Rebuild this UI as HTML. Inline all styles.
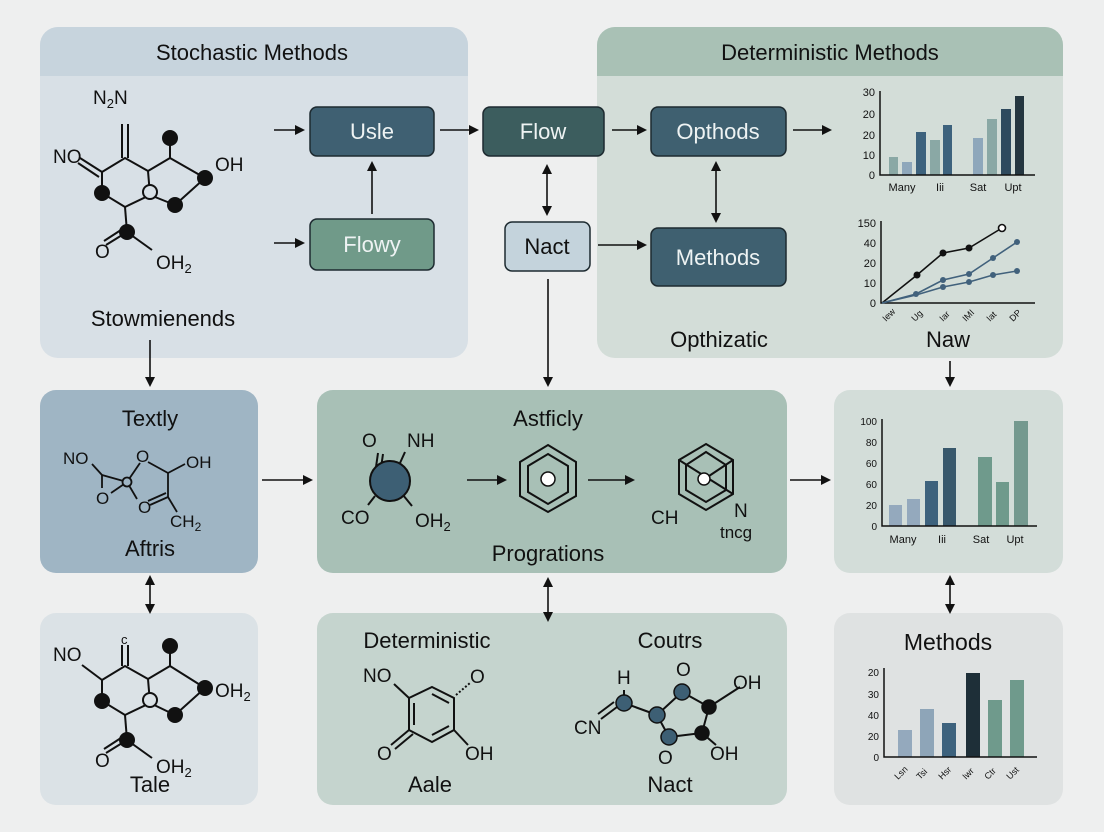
<!DOCTYPE html>
<html><head><meta charset="utf-8"><style>
html,body{margin:0;padding:0;background:#eeefef;}
svg{display:block;font-family:"Liberation Sans",sans-serif;}
</style></head><body>
<svg width="1104" height="832" viewBox="0 0 1104 832" xmlns="http://www.w3.org/2000/svg">
<defs>
<marker id="a" markerWidth="10" markerHeight="10" refX="8" refY="5" orient="auto" markerUnits="userSpaceOnUse"><path d="M0,0 L10,5 L0,10 z" fill="#111"/></marker>
<marker id="s" markerWidth="10" markerHeight="10" refX="2" refY="5" orient="auto" markerUnits="userSpaceOnUse"><path d="M10,0 L0,5 L10,10 z" fill="#111"/></marker>
<clipPath id="c1"><rect x="40" y="27" width="428" height="331" rx="18"/></clipPath>
<clipPath id="c2"><rect x="597" y="27" width="466" height="331" rx="18"/></clipPath>
</defs>
<rect width="1104" height="832" fill="#eeefef"/>
<g clip-path="url(#c1)"><rect x="40" y="27" width="428" height="331" fill="#d8e0e6"/><rect x="40" y="27" width="428" height="49" fill="#c7d4dd"/></g>
<g clip-path="url(#c2)"><rect x="597" y="27" width="466" height="331" fill="#d3ddd8"/><rect x="597" y="27" width="466" height="49" fill="#a9c1b5"/></g>
<rect x="40" y="390" width="218" height="183" rx="16" fill="#9fb5c4"/>
<rect x="317" y="390" width="470" height="183" rx="16" fill="#a8c0b6"/>
<rect x="834" y="390" width="229" height="183" rx="16" fill="#d3ddd9"/>
<rect x="40" y="613" width="218" height="192" rx="16" fill="#dbe2e6"/>
<rect x="317" y="613" width="470" height="192" rx="16" fill="#c5d4ce"/>
<rect x="834" y="613" width="229" height="192" rx="16" fill="#dfe2e2"/>

<g fill="#111" font-size="22" text-anchor="middle">
<text x="252" y="60">Stochastic Methods</text>
<text x="830" y="60">Deterministic Methods</text>
<text x="163" y="326">Stowmienends</text>
<text x="719" y="347">Opthizatic</text>
<text x="948" y="347">Naw</text>
<text x="150" y="426">Textly</text>
<text x="150" y="556">Aftris</text>
<text x="548" y="426">Astficly</text>
<text x="548" y="561">Progrations</text>
<text x="150" y="792">Tale</text>
<text x="427" y="648">Deterministic</text>
<text x="670" y="648">Coutrs</text>
<text x="430" y="792">Aale</text>
<text x="670" y="792">Nact</text>
<text x="948" y="650" font-size="23">Methods</text>
</g>

<g stroke="#1d2a30" stroke-width="1.5">
<rect x="310" y="107" width="124" height="49" rx="7" fill="#3f6072"/>
<rect x="483" y="107" width="121" height="49" rx="7" fill="#3c5d5e"/>
<rect x="651" y="107" width="135" height="49" rx="7" fill="#3f6070"/>
<rect x="310" y="219" width="124" height="51" rx="7" fill="#709a89"/>
<rect x="505" y="222" width="85" height="49" rx="7" fill="#c4d3dc"/>
<rect x="651" y="228" width="135" height="58" rx="7" fill="#3f6070"/>
</g>
<g font-size="22" text-anchor="middle" fill="#eef3f3">
<text x="372" y="139">Usle</text>
<text x="543" y="139">Flow</text>
<text x="718" y="139">Opthods</text>
<text x="372" y="252">Flowy</text>
<text x="547" y="254" fill="#111">Nact</text>
<text x="718" y="265">Methods</text>
</g>

<g stroke="#111" stroke-width="1.6" fill="none">
<line x1="274" y1="130" x2="303" y2="130" marker-end="url(#a)"/>
<line x1="440" y1="130" x2="477" y2="130" marker-end="url(#a)"/>
<line x1="612" y1="130" x2="645" y2="130" marker-end="url(#a)"/>
<line x1="793" y1="130" x2="830" y2="130" marker-end="url(#a)"/>
<line x1="372" y1="214" x2="372" y2="163" marker-end="url(#a)"/>
<line x1="274" y1="243" x2="303" y2="243" marker-end="url(#a)"/>
<line x1="547" y1="166" x2="547" y2="214" marker-end="url(#a)" marker-start="url(#s)"/>
<line x1="598" y1="245" x2="645" y2="245" marker-end="url(#a)"/>
<line x1="716" y1="163" x2="716" y2="221" marker-end="url(#a)" marker-start="url(#s)"/>
<line x1="548" y1="279" x2="548" y2="385" marker-end="url(#a)"/>
<line x1="150" y1="340" x2="150" y2="385" marker-end="url(#a)"/>
<line x1="950" y1="361" x2="950" y2="385" marker-end="url(#a)"/>
<line x1="262" y1="480" x2="311" y2="480" marker-end="url(#a)"/>
<line x1="790" y1="480" x2="829" y2="480" marker-end="url(#a)"/>
<line x1="150" y1="577" x2="150" y2="612" marker-end="url(#a)" marker-start="url(#s)"/>
<line x1="548" y1="579" x2="548" y2="620" marker-end="url(#a)" marker-start="url(#s)"/>
<line x1="950" y1="577" x2="950" y2="612" marker-end="url(#a)" marker-start="url(#s)"/>
<line x1="467" y1="480" x2="505" y2="480" marker-end="url(#a)"/>
<line x1="588" y1="480" x2="633" y2="480" marker-end="url(#a)"/>
</g>

<!-- top-left molecule -->
<g stroke="#111" stroke-width="2" fill="none">
<path d="M102,172 L125,158 L148,171 L150,195 L125,207 L102,193 Z"/>
<line x1="122" y1="158" x2="122" y2="124"/><line x1="128" y1="158" x2="128" y2="124"/>
<line x1="102" y1="172" x2="80" y2="158"/><line x1="99" y1="177" x2="78" y2="163"/>
<line x1="148" y1="171" x2="170" y2="158"/><line x1="170" y1="158" x2="205" y2="178"/>
<line x1="170" y1="158" x2="170" y2="140"/>
<line x1="150" y1="195" x2="175" y2="205"/><line x1="175" y1="205" x2="205" y2="178"/>
<line x1="125" y1="207" x2="127" y2="232"/><line x1="127" y1="232" x2="152" y2="250"/>
<line x1="127" y1="232" x2="106" y2="245"/><line x1="124" y1="228" x2="104" y2="241"/>
</g>
<g fill="#111"><circle cx="170" cy="138" r="8"/><circle cx="102" cy="193" r="8"/><circle cx="205" cy="178" r="8"/><circle cx="175" cy="205" r="8"/><circle cx="127" cy="232" r="8"/></g>
<circle cx="150" cy="192" r="7" fill="#d8e0e6" stroke="#111" stroke-width="2"/>
<g font-size="19" fill="#111"><text x="93" y="104">N<tspan font-size="13" dy="4">2</tspan><tspan dy="-4">N</tspan></text><text x="53" y="163">NO</text><text x="215" y="171">OH</text><text x="95" y="258">O</text><text x="156" y="269">OH<tspan font-size="13" dy="4">2</tspan></text></g>

<!-- Tale molecule -->
<g stroke="#111" stroke-width="2" fill="none">
<path d="M102,680 L125,666 L148,679 L150,703 L125,715 L102,701 Z"/>
<line x1="122" y1="666" x2="122" y2="645"/><line x1="128" y1="666" x2="128" y2="645"/>
<line x1="102" y1="680" x2="82" y2="665"/>
<line x1="148" y1="679" x2="170" y2="666"/><line x1="170" y1="666" x2="205" y2="688"/>
<line x1="170" y1="666" x2="170" y2="648"/>
<line x1="150" y1="703" x2="175" y2="715"/><line x1="175" y1="715" x2="205" y2="688"/>
<line x1="125" y1="715" x2="127" y2="740"/><line x1="127" y1="740" x2="152" y2="758"/>
<line x1="127" y1="740" x2="106" y2="753"/><line x1="124" y1="736" x2="104" y2="749"/>
</g>
<g fill="#111"><circle cx="170" cy="646" r="8"/><circle cx="102" cy="701" r="8"/><circle cx="205" cy="688" r="8"/><circle cx="175" cy="715" r="8"/><circle cx="127" cy="740" r="8"/></g>
<circle cx="150" cy="700" r="7" fill="#dbe2e6" stroke="#111" stroke-width="2"/>
<g font-size="19" fill="#111"><text x="121" y="644" font-size="13">c</text><text x="53" y="661">NO</text><text x="215" y="697">OH<tspan font-size="13" dy="4">2</tspan></text><text x="95" y="767">O</text><text x="156" y="773">OH<tspan font-size="13" dy="4">2</tspan></text></g>

<!-- Textly molecule -->
<g stroke="#111" stroke-width="1.8" fill="none">
<line x1="92" y1="464" x2="102" y2="475"/>
<line x1="102" y1="475" x2="127" y2="482"/>
<line x1="102" y1="475" x2="102" y2="488"/>
<line x1="111" y1="493" x2="127" y2="482"/>
<line x1="127" y1="482" x2="140" y2="463"/>
<line x1="148" y1="462" x2="168" y2="473"/>
<line x1="168" y1="473" x2="185" y2="464"/>
<line x1="168" y1="473" x2="168" y2="497"/>
<line x1="168" y1="497" x2="150" y2="505"/><line x1="166" y1="493" x2="148" y2="501"/>
<line x1="127" y1="482" x2="137" y2="499"/>
<line x1="168" y1="497" x2="177" y2="512"/>
</g>
<circle cx="127" cy="482" r="4.5" fill="#9fb5c4" stroke="#111" stroke-width="1.8"/>
<g font-size="17" fill="#111"><text x="63" y="464">NO</text><text x="136" y="462">O</text><text x="96" y="504">O</text><text x="138" y="513">O</text><text x="186" y="468">OH</text><text x="170" y="527">CH<tspan font-size="12" dy="4">2</tspan></text></g>

<!-- Astficly molecules -->
<g stroke="#111" stroke-width="2" fill="none">
<line x1="376" y1="467" x2="378" y2="453"/><line x1="381" y1="468" x2="383" y2="454"/>
<line x1="400" y1="463" x2="405" y2="452"/>
<line x1="375" y1="496" x2="368" y2="505"/><line x1="403" y1="495" x2="412" y2="506"/>
<path d="M548,445 L576,462 L576,496 L548,512 L520,496 L520,462 Z"/>
<path d="M548,454 L568,466 L568,492 L548,504 L528,492 L528,466 Z"/>
<path d="M706,444 L733,460 L733,494 L706,510 L679,494 L679,460 Z"/>
<path d="M706,452 L726,465 L726,490 L706,502 L686,490 L686,465 Z"/>
<line x1="679" y1="460" x2="733" y2="494"/><line x1="706" y1="478" x2="733" y2="460"/>
</g>
<circle cx="390" cy="481" r="20" fill="#3d5f74" stroke="#111" stroke-width="2"/>
<circle cx="548" cy="479" r="7" fill="#fff" stroke="#111" stroke-width="1.5"/>
<circle cx="704" cy="479" r="6" fill="#fff" stroke="#111" stroke-width="1.5"/>
<g font-size="19" fill="#111"><text x="362" y="447">O</text><text x="407" y="447">NH</text><text x="341" y="524">CO</text><text x="415" y="527">OH<tspan font-size="13" dy="4">2</tspan></text><text x="651" y="524">CH</text><text x="734" y="517">N</text><text x="720" y="538" font-size="17">tncg</text></g>

<!-- Aale molecule -->
<g stroke="#111" stroke-width="2" fill="none">
<path d="M432,687 L454,698 L454,730 L432,742 L409,730 L409,698 Z"/>
<line x1="432" y1="694" x2="449" y2="703"/><line x1="449" y1="726" x2="432" y2="735"/><line x1="414" y1="703" x2="414" y2="725"/>
<line x1="409" y1="698" x2="394" y2="684"/>
<line x1="409" y1="730" x2="391" y2="745"/><line x1="413" y1="734" x2="395" y2="749"/>
<line x1="454" y1="730" x2="468" y2="745"/>
<line x1="456" y1="695" x2="470" y2="683" stroke-dasharray="2,2"/>
</g>
<g font-size="19" fill="#111"><text x="363" y="682">NO</text><text x="470" y="683">O</text><text x="377" y="760">O</text><text x="465" y="760">OH</text></g>

<!-- Nact molecule -->
<g stroke="#111" stroke-width="2" fill="none">
<line x1="601" y1="719" x2="617" y2="707"/><line x1="598" y1="714" x2="614" y2="702"/>
<line x1="624" y1="703" x2="624" y2="690"/>
<path d="M657,715 L682,692 L709,707 L702,733 L669,737 Z"/>
<line x1="624" y1="703" x2="657" y2="715"/>
<line x1="709" y1="707" x2="740" y2="687"/><line x1="702" y1="733" x2="716" y2="745"/>
</g>
<g stroke="#111" stroke-width="1.5"><circle cx="624" cy="703" r="8" fill="#3d5f74"/><circle cx="657" cy="715" r="8" fill="#3d5f74"/><circle cx="682" cy="692" r="8" fill="#3d5f74"/><circle cx="669" cy="737" r="8" fill="#3d5f74"/><circle cx="709" cy="707" r="7" fill="#111"/><circle cx="702" cy="733" r="7" fill="#111"/></g>
<g font-size="19" fill="#111"><text x="574" y="734">CN</text><text x="617" y="684">H</text><text x="676" y="676">O</text><text x="733" y="689">OH</text><text x="710" y="760">OH</text><text x="658" y="764">O</text></g>

<!-- chart 1 -->
<g fill="#111" font-size="11" text-anchor="end"><text x="875" y="96">30</text><text x="875" y="118">20</text><text x="875" y="139">20</text><text x="875" y="159">10</text><text x="875" y="179">0</text></g>
<rect x="889" y="157" width="9" height="18" fill="#8aa8a5"/><rect x="902" y="162" width="10" height="13" fill="#8ea7bb"/><rect x="916" y="132" width="10" height="43" fill="#3d627d"/><rect x="930" y="140" width="10" height="35" fill="#8aa8a5"/><rect x="943" y="125" width="9" height="50" fill="#3d627d"/><rect x="973" y="138" width="10" height="37" fill="#8ea7bb"/><rect x="987" y="119" width="10" height="56" fill="#8aa8a5"/><rect x="1001" y="109" width="10" height="66" fill="#2e4a5e"/><rect x="1015" y="96" width="9" height="79" fill="#243640"/>
<path d="M880,91 L880,175 L1035,175" stroke="#111" stroke-width="1.5" fill="none"/>
<g fill="#111" font-size="11" text-anchor="middle"><text x="902" y="191">Many</text><text x="940" y="191">Iii</text><text x="978" y="191">Sat</text><text x="1013" y="191">Upt</text></g>

<!-- chart 2 -->
<g fill="#111" font-size="11" text-anchor="end"><text x="876" y="227">150</text><text x="876" y="247">40</text><text x="876" y="267">20</text><text x="876" y="287">10</text><text x="876" y="307">0</text></g>
<path d="M881,221 L881,303 L1035,303" stroke="#111" stroke-width="1.5" fill="none"/>
<polyline points="882,303 917,275 943,253 969,248 1002,228" stroke="#111" stroke-width="1.6" fill="none"/>
<polyline points="882,303 916,294 943,280 969,274 993,258 1017,242" stroke="#41617c" stroke-width="1.6" fill="none"/>
<polyline points="882,303 916,295 943,287 969,282 993,275 1017,271" stroke="#41617c" stroke-width="1.6" fill="none"/>
<g fill="#111"><circle cx="917" cy="275" r="3.5"/><circle cx="943" cy="253" r="3.5"/><circle cx="969" cy="248" r="3.5"/></g>
<circle cx="1002" cy="228" r="3.5" fill="#fff" stroke="#111" stroke-width="1.6"/>
<g fill="#41617c"><circle cx="916" cy="294" r="3"/><circle cx="943" cy="280" r="3"/><circle cx="969" cy="274" r="3"/><circle cx="993" cy="258" r="3"/><circle cx="1017" cy="242" r="3"/><circle cx="943" cy="287" r="3"/><circle cx="969" cy="282" r="3"/><circle cx="993" cy="275" r="3"/><circle cx="1017" cy="271" r="3"/></g>
<g fill="#111" font-size="9"><text transform="translate(886,322) rotate(-45)">Iew</text><text transform="translate(915,322) rotate(-45)">Ug</text><text transform="translate(943,322) rotate(-45)">Iar</text><text transform="translate(966,322) rotate(-45)">IMI</text><text transform="translate(990,322) rotate(-45)">Iat</text><text transform="translate(1013,322) rotate(-45)">DP</text></g>

<!-- chart 3 -->
<g fill="#111" font-size="10" text-anchor="end"><text x="877" y="425">100</text><text x="877" y="446">80</text><text x="877" y="467">60</text><text x="877" y="488">60</text><text x="877" y="509">20</text><text x="877" y="530">0</text></g>
<rect x="889" y="505" width="13" height="21" fill="#94a9bd"/><rect x="907" y="499" width="13" height="27" fill="#94a9bd"/><rect x="925" y="481" width="13" height="45" fill="#3d627d"/><rect x="943" y="448" width="13" height="78" fill="#38586c"/><rect x="978" y="457" width="14" height="69" fill="#6f9a8c"/><rect x="996" y="482" width="13" height="44" fill="#6f9a8c"/><rect x="1014" y="421" width="14" height="105" fill="#74998f"/>
<path d="M882,419 L882,526 L1037,526" stroke="#111" stroke-width="1.5" fill="none"/>
<g fill="#111" font-size="11" text-anchor="middle"><text x="903" y="543">Many</text><text x="942" y="543">Iii</text><text x="981" y="543">Sat</text><text x="1015" y="543">Upt</text></g>

<!-- chart 4 -->
<g fill="#111" font-size="10" text-anchor="end"><text x="879" y="676">20</text><text x="879" y="698">30</text><text x="879" y="719">40</text><text x="879" y="740">20</text><text x="879" y="761">0</text></g>
<rect x="898" y="730" width="14" height="27" fill="#94a9bd"/><rect x="920" y="709" width="14" height="48" fill="#8ea5b8"/><rect x="942" y="723" width="14" height="34" fill="#3d627d"/><rect x="966" y="673" width="14" height="84" fill="#1e2f38"/><rect x="988" y="700" width="14" height="57" fill="#6f9a8c"/><rect x="1010" y="680" width="14" height="77" fill="#6f9a8c"/>
<path d="M884,668 L884,757 L1037,757" stroke="#111" stroke-width="1.5" fill="none"/>
<g fill="#111" font-size="9"><text transform="translate(898,780) rotate(-45)">Lsn</text><text transform="translate(920,780) rotate(-45)">Tsi</text><text transform="translate(942,780) rotate(-45)">Hsr</text><text transform="translate(966,780) rotate(-45)">Iwr</text><text transform="translate(988,780) rotate(-45)">Ctr</text><text transform="translate(1010,780) rotate(-45)">Ust</text></g>
</svg>
</body></html>
